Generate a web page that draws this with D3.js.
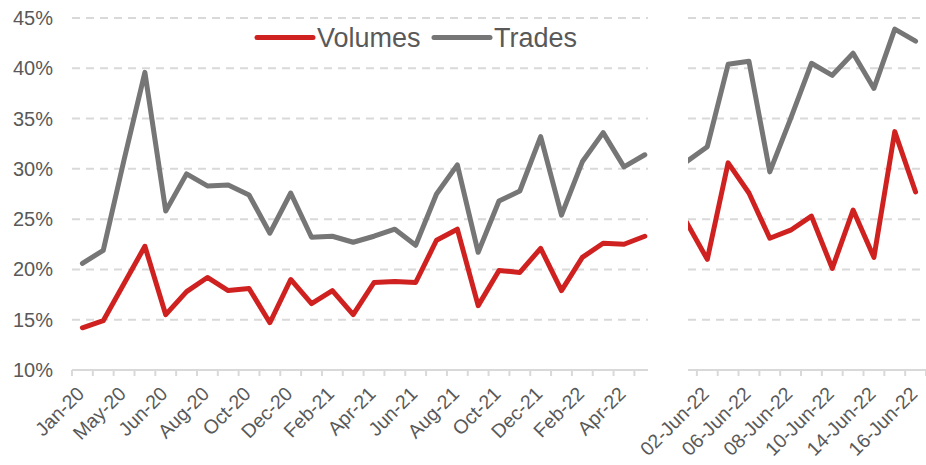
<!DOCTYPE html>
<html>
<head>
<meta charset="utf-8">
<script src="https://cdn.jsdelivr.net/npm/d3@7"></script>
<style>
  body { margin: 0; background: #fff; }
  text { font-family: "Liberation Sans", Arial, sans-serif; }
</style>
</head>
<body>
<svg id="chart"></svg>
<script>
var width = 926;
var height = 465;

// monthly part (left) and daily June 2022 part (right)
var months = ["Jan-20","Mar-20","May-20","May-20","Jun-20","Jul-20","Aug-20","Sep-20","Oct-20","Nov-20",
              "Dec-20","Jan-21","Feb-21","Mar-21","Apr-21","May-21","Jun-21","Jul-21","Aug-21","Sep-21",
              "Oct-21","Nov-21","Dec-21","Jan-22","Feb-22","Mar-22","Apr-22","May-22"];
var volumesMonthly = [14.2, 14.9, 18.6, 22.3, 15.5, 17.8, 19.2, 17.9, 18.1, 14.7,
                      19.0, 16.6, 17.9, 15.5, 18.7, 18.8, 18.7, 22.9, 24.0, 16.4,
                      19.9, 19.7, 22.1, 17.9, 21.2, 22.6, 22.5, 23.3];
var tradesMonthly  = [20.6, 21.9, 30.9, 39.6, 25.8, 29.5, 28.3, 28.4, 27.4, 23.6,
                      27.6, 23.2, 23.3, 22.7, 23.3, 24.0, 22.4, 27.5, 30.4, 21.7,
                      26.8, 27.8, 33.2, 25.4, 30.7, 33.6, 30.2, 31.4];

var days = ["01-Jun-22","02-Jun-22","03-Jun-22","06-Jun-22","07-Jun-22","08-Jun-22",
            "09-Jun-22","10-Jun-22","13-Jun-22","14-Jun-22","15-Jun-22","16-Jun-22"];
var volumesDaily = [24.7, 21.0, 30.6, 27.6, 23.1, 23.9, 25.3, 20.1, 25.9, 21.2, 33.7, 27.7];
var tradesDaily  = [30.7, 32.2, 40.4, 40.7, 29.7, 35.0, 40.5, 39.3, 41.5, 38.0, 43.9, 42.7];

var yTicks = [10, 15, 20, 25, 30, 35, 40, 45];

var colorVolumes = "#CF2220";
var colorTrades = "#767676";
var gridColor = "#D9D9D9";
var textColor = "#595959";

var svg = d3.select("#chart")
    .attr("width", width)
    .attr("height", height);

// one category axis, the slot between the two parts is left empty
var gapIndex = months.length;
var slots = months.concat([""], days);

var x = d3.scaleBand()
    .domain(d3.range(slots.length))
    .range([72, 926])
    .paddingInner(0)
    .paddingOuter(0);

var y = d3.scaleLinear()
    .domain([10, 45])
    .range([370, 18]);

var segments = [
  {x0: 72, x1: 648, start: 0, end: months.length},
  {x0: 688, x1: 926, start: gapIndex + 1, end: slots.length}
];

// gridlines
segments.forEach(function(seg){
  svg.append("g")
    .selectAll("line")
    .data(yTicks.filter(function(t){ return t > 10; }))
    .enter().append("line")
      .attr("x1", seg.x0)
      .attr("x2", seg.x1)
      .attr("y1", function(d){ return y(d); })
      .attr("y2", function(d){ return y(d); })
      .style("stroke", gridColor)
      .style("stroke-width", 2)
      .style("stroke-dasharray", "8,6");

  // x axis line and tick marks
  svg.append("line")
    .attr("x1", seg.x0).attr("x2", seg.x1)
    .attr("y1", y(10)).attr("y2", y(10))
    .style("stroke", gridColor)
    .style("stroke-width", 2);

  var tickPos = d3.range(seg.start, seg.end + 1)
      .map(function(i){ return i < slots.length ? x(i) : x(i - 1) + x.bandwidth(); })
      .filter(function(p){ return p >= seg.x0 - 1 && p <= seg.x1 + 1; });

  svg.append("g")
    .selectAll("line")
    .data(tickPos)
    .enter().append("line")
      .attr("x1", function(d){ return d; })
      .attr("x2", function(d){ return d; })
      .attr("y1", y(10))
      .attr("y2", y(10) + 6)
      .style("stroke", gridColor)
      .style("stroke-width", 2);
});

// y labels
svg.append("g")
  .selectAll("text")
  .data(yTicks)
  .enter().append("text")
    .attr("x", 53)
    .attr("y", function(d){ return y(d); })
    .attr("dy", "0.35em")
    .attr("text-anchor", "end")
    .style("font-size", "20px")
    .style("fill", textColor)
    .text(function(d){ return d + "%"; });

// x labels, every second category
svg.append("g")
  .selectAll("text")
  .data(d3.range(slots.length).filter(function(i){ return i % 2 === 0 && slots[i] !== ""; }))
  .enter().append("text")
    .attr("transform", function(i){
      return "translate(" + (x(i) + x.bandwidth() / 2 + 3) + "," + 395 + ") rotate(-45)";
    })
    .attr("text-anchor", "end")
    .style("font-size", "19.5px")
    .style("fill", textColor)
    .text(function(i){ return slots[i]; });

// lines
var clip = svg.append("defs").append("clipPath").attr("id", "rightClip");
clip.append("rect").attr("x", 688).attr("y", 0).attr("width", 300).attr("height", height);

var line = d3.line()
    .x(function(d){ return x(d.i) + x.bandwidth() / 2; })
    .y(function(d){ return y(d.v); });

function toPoints(values, offset){
  return values.map(function(v, k){ return {i: k + offset, v: v}; });
}

var series = [
  {values: tradesMonthly, offset: 0, color: colorTrades, clip: null},
  {values: volumesMonthly, offset: 0, color: colorVolumes, clip: null},
  {values: tradesDaily, offset: gapIndex + 1, color: colorTrades, clip: "url(#rightClip)"},
  {values: volumesDaily, offset: gapIndex + 1, color: colorVolumes, clip: "url(#rightClip)"}
];

series.forEach(function(s){
  svg.append("path")
    .datum(toPoints(s.values, s.offset))
    .attr("d", line)
    .attr("clip-path", s.clip)
    .style("fill", "none")
    .style("stroke", s.color)
    .style("stroke-width", 5)
    .style("stroke-linejoin", "round")
    .style("stroke-linecap", "round");
});

// legend
var legend = [
  {name: "Volumes", color: colorVolumes, x: 257},
  {name: "Trades", color: colorTrades, x: 434}
];
legend.forEach(function(l){
  svg.append("line")
    .attr("x1", l.x).attr("x2", l.x + 56)
    .attr("y1", 37.5).attr("y2", 37.5)
    .style("stroke", l.color)
    .style("stroke-width", 5)
    .style("stroke-linecap", "round");
  svg.append("text")
    .attr("x", l.x + 60)
    .attr("y", 46.5)
    .style("font-size", "27px")
    .style("fill", textColor)
    .text(l.name);
});
</script>
</body>
</html>
